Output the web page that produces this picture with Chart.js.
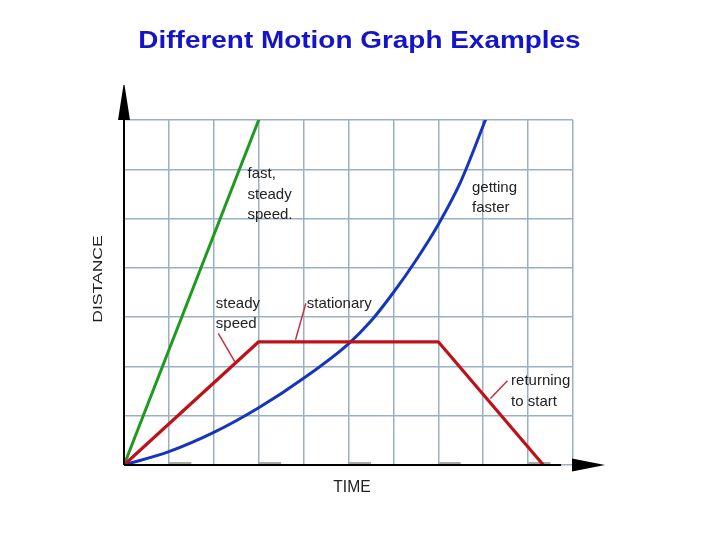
<!DOCTYPE html>
<html><head><meta charset="utf-8">
<script src="https://cdn.jsdelivr.net/npm/chart.js@4/dist/chart.umd.min.js"></script>
<style>html,body{margin:0;padding:0;background:#fff;}canvas{display:block;}</style>
</head><body>
<canvas id="c" width="720" height="540"></canvas>
<script>
// ---- data ----
const titleText = 'Different Motion Graph Examples';
const xAxisLabel = 'TIME';
const yAxisLabel = 'DISTANCE';
const xMax = 10;           // grid columns
const yMax = 7;            // grid rows
const fastX = [0, 3];
const fastY = [0, 7];
const steadyX = [0, 3, 7, 9.34];
const steadyY = [0, 2.5, 2.5, 0];
const accelX = [0, 1, 2, 3, 4, 5, 5.5, 6, 6.5, 7, 7.5, 8.05];
const accelY = [0, 0.27, 0.66, 1.16, 1.76, 2.46, 2.92, 3.5, 4.15, 4.88, 5.75, 7];
const minorTickX = [1, 3, 5, 7, 9];
const noteTexts = [['fast,', 'steady', 'speed.'], ['getting', 'faster'], ['steady', 'speed'], ['stationary'], ['returning', 'to start']];
const noteX = [2.75, 7.75, 2.045, 4.07, 8.62];
const noteY = [5.82, 5.545, 3.19, 3.19, 1.623];
const leaderFrom = [[2.10, 2.67], [4.05, 3.28], [8.54, 1.71]];
const leaderTo = [[2.47, 2.09], [3.82, 2.54], [8.16, 1.35]];

const pts = (xs, ys) => xs.map((x, i) => ({x: x, y: ys[i]}));

const deco = {
  id: 'deco',
  beforeDatasetsDraw(chart) {
    const {ctx, scales: {x, y}} = chart;
    ctx.save();
    ctx.fillStyle = '#a8a8a8';
    minorTickX.forEach(v => {
      const a = x.getPixelForValue(v), b = x.getPixelForValue(v + 0.5);
      ctx.fillRect(a, y.getPixelForValue(0) - 3, b - a, 3);
    });
    ctx.restore();
  },
  afterDatasetsDraw(chart) {
    const {ctx, chartArea: ca, scales: {x, y}} = chart;
    ctx.save();
    // axes
    ctx.strokeStyle = '#000';
    ctx.fillStyle = '#000';
    ctx.lineWidth = 2;
    const ox = x.getPixelForValue(0), oy = y.getPixelForValue(0);
    ctx.beginPath();
    ctx.moveTo(ox, oy); ctx.lineTo(ox, ca.top);
    ctx.moveTo(ox, oy); ctx.lineTo(ca.right - 12, oy);
    ctx.stroke();
    ctx.beginPath();
    ctx.moveTo(ox - 6, ca.top); ctx.lineTo(ox + 6, ca.top); ctx.lineTo(ox + 0.5, ca.top - 35); ctx.lineTo(ox - 0.5, ca.top - 35);
    ctx.closePath(); ctx.fill();
    ctx.beginPath();
    ctx.moveTo(ca.right - 1, oy - 6.5); ctx.lineTo(ca.right + 32, oy); ctx.lineTo(ca.right - 1, oy + 6.5);
    ctx.closePath(); ctx.fill();
    // leaders
    ctx.strokeStyle = '#c8303a';
    ctx.lineWidth = 1.5;
    leaderFrom.forEach((p, i) => {
      ctx.beginPath();
      ctx.moveTo(x.getPixelForValue(p[0]), y.getPixelForValue(p[1]));
      ctx.lineTo(x.getPixelForValue(leaderTo[i][0]), y.getPixelForValue(leaderTo[i][1]));
      ctx.stroke();
    });
    // notes
    ctx.fillStyle = '#222';
    ctx.font = '15px "Liberation Sans", Arial, sans-serif';
    ctx.textBaseline = 'alphabetic';
    ctx.textAlign = 'left';
    noteTexts.forEach((lines, i) => {
      const px = x.getPixelForValue(noteX[i]), py = y.getPixelForValue(noteY[i]);
      lines.forEach((t, k) => ctx.fillText(t, px, py + k * 20.5));
    });
    ctx.restore();
  },
  afterDraw(chart) {
    const {ctx} = chart;
    ctx.save();
    // title
    ctx.fillStyle = '#1414c8';
    ctx.font = 'bold 24.5px "Liberation Sans", Arial, sans-serif';
    ctx.textAlign = 'center';
    ctx.textBaseline = 'alphabetic';
    ctx.translate(359.5, 47.7);
    ctx.scale(1.14, 1);
    ctx.fillText(titleText, 0, 0);
    ctx.restore();
    // x label
    ctx.save();
    ctx.fillStyle = '#222';
    ctx.font = '17px "Liberation Sans", Arial, sans-serif';
    ctx.textAlign = 'center';
    ctx.translate(352, 491.5);
    ctx.scale(0.92, 1);
    ctx.fillText(xAxisLabel, 0, 0);
    ctx.restore();
    // y label
    ctx.save();
    ctx.fillStyle = '#222';
    ctx.font = '13px "Liberation Sans", Arial, sans-serif';
    ctx.textAlign = 'center';
    ctx.translate(101.7, 279);
    ctx.rotate(-Math.PI / 2);
    ctx.scale(1.35, 1);
    ctx.fillText(yAxisLabel, 0, 0);
    ctx.restore();
  }
};

const gridStyle = {color: '#9ab0c4', lineWidth: 1.5, drawTicks: false};

new Chart(document.getElementById('c'), {
  type: 'scatter',
  data: {
    datasets: [
      {data: pts(steadyX, steadyY), borderColor: '#bf1218', borderWidth: 3.2},
      {data: pts(fastX, fastY), borderColor: '#1f9a1f', borderWidth: 3},
      {data: pts(accelX, accelY), borderColor: '#1535bb', borderWidth: 3, cubicInterpolationMode: 'monotone'}
    ].map(d => Object.assign({showLine: true, pointRadius: 0, fill: false, borderCapStyle: 'round', borderJoinStyle: 'round'}, d))
  },
  options: {
    responsive: false,
    animation: false,
    layout: {padding: {left: 124, right: 147, top: 120, bottom: 75}},
    plugins: {legend: {display: false}, tooltip: {enabled: false}, title: {display: false}},
    scales: {
      x: {type: 'linear', min: 0, max: xMax, ticks: {display: false, stepSize: 1}, grid: gridStyle, border: {display: false}},
      y: {type: 'linear', min: 0, max: yMax, ticks: {display: false, stepSize: 1}, grid: gridStyle, border: {display: false}}
    }
  },
  plugins: [deco]
});
</script>
</body></html>
